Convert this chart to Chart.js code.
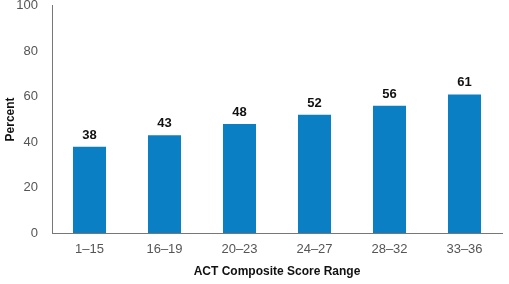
<!DOCTYPE html>
<html><head><meta charset="utf-8">
<script src="https://cdn.jsdelivr.net/npm/chart.js@4"></script>
<style>
html,body{margin:0;padding:0;background:#fff;overflow:hidden}
#wrap{position:absolute;left:0;top:-16px;width:509px;height:300px}
</style></head><body>
<div id="wrap"><canvas id="c"></canvas></div>
<script>
const categories = ["1\u201315","16\u201319","20\u201323","24\u201327","28\u201332","33\u201336"];
const percentValues = [38,43,48,52,56,61];
const yTicks = [0,20,40,60,80,100];
const xTitle = "ACT Composite Score Range";
const yTitle = "Percent";

const labelPlugin = {
  id:'barLabels',
  afterDatasetsDraw(chart){
    const ctx = chart.ctx;
    const meta = chart.getDatasetMeta(0);
    ctx.save();
    ctx.font = 'bold 13px "Liberation Sans", Arial, sans-serif';
    ctx.fillStyle = '#111';
    ctx.textAlign = 'center';
    ctx.textBaseline = 'bottom';
    meta.data.forEach((el,i)=>{
      ctx.fillText(String(percentValues[i]), el.x, el.y - 5);
    });
    ctx.restore();
  }
};

new Chart(document.getElementById('c'), {
  type:'bar',
  data:{labels:categories, datasets:[{data:percentValues, backgroundColor:'#0a7fc4', borderWidth:0, barPercentage:0.44, categoryPercentage:1.0}]},
  options:{
    responsive:true, maintainAspectRatio:false, animation:false,
    devicePixelRatio:1,
    layout:{padding:{left:0,right:7,top:0,bottom:0}},
    plugins:{legend:{display:false}, tooltip:{enabled:false}},
    scales:{
      x:{
        grid:{display:false, drawTicks:false},
        border:{display:true,color:'#777',width:1},
        ticks:{color:'#555', font:{family:'"Liberation Sans", Arial, sans-serif', size:13}, padding:9},
        title:{display:true, text:xTitle, color:'#111', font:{family:'"Liberation Sans", Arial, sans-serif', size:12, weight:'bold'}, padding:{top:4,bottom:5}},
        afterFit(s){ s.height = 300-16-233; }
      },
      y:{
        min:0,max:100,
        grid:{display:false, drawTicks:false},
        border:{display:true,color:'#777',width:1},
        afterBuildTicks(s){ s.ticks = yTicks.map(v=>({value:v})); },
        ticks:{color:'#555', font:{family:'"Liberation Sans", Arial, sans-serif', size:13}, padding:14},
        title:{display:true, text:yTitle, color:'#111', font:{family:'"Liberation Sans", Arial, sans-serif', size:12, weight:'bold'}, padding:{top:3,bottom:4}},
        afterFit(s){ s.width = 52; }
      }
    }
  },
  plugins:[labelPlugin]
});
</script>
</body></html>
